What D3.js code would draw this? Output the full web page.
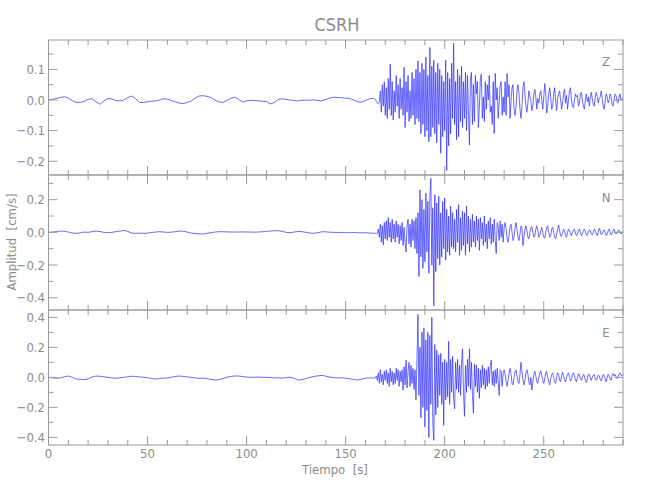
<!DOCTYPE html>
<html><head><meta charset="utf-8">
<script src="https://cdn.jsdelivr.net/npm/d3@7"></script>
<style>
body{margin:0;background:#fff;}
text{font-family:"DejaVu Sans","Liberation Sans",sans-serif;font-stretch:condensed;font-weight:normal;fill:#8c8c8c;}
</style></head>
<body><svg id="chart" width="650" height="500"></svg>
<script>
// ---- data ----
const title = "CSRH";
const channels = ["Z", "N", "E"];
const xTicks = [0, 50, 100, 150, 200, 250];
const quietStart = 0, quietStep = 2;      // s
const activeStart = 165, activeStep = 0.5; // s

const zQuiet = [0.0,0.002,0.005,0.008,0.011,0.006,-0.002,-0.008,-0.008,-0.005,0.002,0.004,-0.006,-0.014,-0.003,0.005,0.003,-0.002,-0.003,0.0,
0.008,0.013,0.004,-0.008,-0.008,-0.006,-0.004,-0.003,0.0,0.004,0.003,-0.002,-0.006,-0.010,-0.012,-0.008,-0.004,0.006,0.013,0.014,
0.012,0.008,0.0,-0.006,-0.008,-0.002,0.006,0.009,0.002,-0.007,-0.003,-0.001,-0.002,-0.003,-0.004,-0.005,-0.013,-0.008,0.002,0.004,
0.002,0.0,-0.002,-0.003,-0.001,0.0,-0.001,0.001,-0.002,-0.003,0.002,0.006,0.009,0.008,0.007,0.006,0.005,0.0,-0.006,-0.007,
-0.002,0.004,0.006];
const zActive = [0.002,-0.005,-0.010,-0.012,-0.006,0.03,-0.04,0.05,-0.02,0.06,
-0.05,0.04,-0.06,0.07,-0.03,0.117,-0.05,0.06,-0.065,0.03,
-0.04,0.08,-0.02,0.05,-0.06,0.07,-0.03,0.04,-0.05,0.107,
-0.09,0.06,-0.04,0.08,-0.07,0.03,-0.06,0.09,-0.05,0.07,
-0.08,0.1,-0.06,0.128,-0.07,0.09,-0.11,0.12,-0.08,0.1,
-0.12,0.14,-0.1,0.08,-0.136,0.172,-0.12,0.11,-0.09,0.13,
-0.11,0.09,-0.14,0.12,-0.08,0.1,-0.174,0.08,-0.12,0.06,
-0.1,0.13,-0.23,0.09,-0.15,0.07,-0.11,0.12,-0.06,0.185,
-0.08,0.06,-0.13,0.1,-0.12,0.08,-0.07,0.11,-0.09,0.06,
-0.06,0.09,-0.1,0.08,-0.05,-0.147,0.07,0.09,-0.08,0.05,
-0.07,0.08,0.02,0.06,-0.09,-0.02,0.07,0.085,-0.06,0.01,
-0.07,0.06,-0.03,0.05,0.0,0.08,-0.04,-0.02,-0.08,0.06,
-0.109,0.087,0.0,0.04,-0.06,-0.01,0.05,0.06,-0.05,0.01,
-0.04,0.06,-0.05,0.087,0.01,0.05,-0.06,0.0,0.04,0.05,
-0.03,-0.05,-0.02,0.03,0.05,0.02,-0.03,-0.06,-0.02,0.04,
0.06,0.02,-0.02,-0.04,-0.01,0.03,0.01,0.0,-0.035,-0.02,
0.02,0.035,0.01,-0.03,0.005,-0.01,0.02,0.03,0.0,-0.03,
0.01,0.054,0.02,-0.043,-0.02,0.02,0.04,0.01,-0.03,-0.02,
0.02,0.04,0.0,-0.035,0.005,0.02,0.03,0.0,-0.03,-0.01,
0.02,0.035,-0.01,0.015,-0.03,0.0,0.03,0.04,0.0,-0.02,
-0.025,0.0,0.02,0.01,0.015,-0.02,-0.01,0.02,0.025,0.0,
-0.02,-0.03,0.0,0.02,-0.005,0.01,-0.02,0.01,0.025,0.005,
-0.015,-0.02,0.01,0.025,0.01,-0.01,0.005,0.01,0.03,0.005,
-0.02,-0.03,0.0,0.02,0.01,-0.01,0.0,0.02,0.01,-0.015,
-0.02,0.0,0.02,0.015,-0.005,-0.01,0.01,0.02,0.0,0.005,0.0];

const nQuiet = [0.0,0.002,0.005,0.008,0.007,0.002,-0.004,-0.006,-0.003,0.002,0.0,0.004,0.008,0.005,0.0,-0.002,0.0,0.004,0.008,0.012,
0.006,-0.004,-0.006,-0.005,-0.006,-0.005,-0.001,0.002,0.004,0.002,0.0,0.001,0.004,0.008,0.007,0.002,-0.004,-0.007,-0.009,-0.01,
-0.006,-0.002,0.002,0.004,0.004,0.003,0.002,0.002,0.002,0.003,0.002,0.002,0.001,0.002,0.004,0.006,0.008,0.01,0.01,0.006,
0.0,-0.002,0.002,0.006,0.004,0.0,-0.004,-0.006,-0.002,0.004,0.003,0.001,0.0,-0.001,0.0,-0.002,-0.002,-0.001,-0.002,-0.003,
-0.002,-0.004,-0.005];
const nActive = [-0.006,-0.008,-0.004,0.02,-0.03,0.05,-0.06,0.04,-0.077,0.06,
-0.04,0.07,-0.05,0.09,-0.03,0.06,-0.06,0.08,-0.04,0.05,
-0.06,0.07,-0.03,0.05,-0.07,0.04,-0.05,0.06,-0.08,0.03,
-0.06,-0.12,0.04,0.08,-0.07,0.05,-0.09,0.08,-0.05,0.07,
-0.1,0.09,-0.13,0.12,-0.27,0.26,-0.15,0.2,-0.22,0.14,
-0.18,0.24,-0.12,0.19,-0.25,0.21,0.33,-0.2,0.15,-0.45,
0.23,-0.24,0.18,-0.16,0.22,-0.2,0.12,-0.15,0.19,-0.1,
0.21,-0.17,0.14,-0.12,0.1,-0.14,0.16,-0.09,0.12,-0.1,
0.08,-0.12,0.14,-0.06,0.17,-0.14,0.09,-0.11,0.13,-0.08,
0.12,-0.14,0.16,-0.07,0.1,-0.12,0.08,-0.09,0.11,-0.06,
0.07,-0.09,0.1,-0.05,0.08,-0.11,0.09,-0.04,0.06,-0.08,
0.1,-0.06,0.05,-0.1,0.07,-0.04,0.09,-0.07,0.05,-0.06,
0.08,-0.05,-0.13,0.06,0.04,-0.05,0.07,-0.03,0.05,-0.06,
0.03,0.06,0.02,-0.04,-0.06,-0.02,0.04,0.05,0.0,-0.05,
-0.03,0.03,0.06,0.02,-0.03,-0.05,-0.01,0.04,0.03,-0.08,
-0.03,0.02,0.04,0.01,-0.03,-0.04,0.0,0.03,0.035,0.0,
-0.03,-0.02,0.02,0.04,0.01,-0.03,-0.02,0.01,0.03,0.0,
-0.03,-0.035,0.0,0.03,0.04,0.0,-0.03,-0.02,0.02,0.03,
0.0,-0.03,-0.04,-0.01,0.02,0.045,0.01,-0.02,-0.025,0.0,
0.02,0.01,-0.02,-0.03,0.0,0.02,0.015,-0.01,-0.02,0.0,
0.015,0.02,-0.005,-0.02,-0.01,0.01,0.02,0.0,-0.02,-0.01,
0.01,0.02,0.005,-0.015,-0.02,0.0,0.015,0.01,-0.01,-0.015,
0.0,0.02,0.01,-0.01,-0.02,0.0,0.025,0.01,-0.015,-0.01,
0.01,0.015,0.0,-0.02,-0.01,0.01,0.02,0.0,-0.015,-0.005,
0.01,0.02,0.0,-0.01,-0.005,0.01,0.015,0.0,-0.01,0.005,0.0];

const eQuiet = [0.0,-0.003,-0.006,-0.004,0.004,0.009,0.0,-0.011,-0.013,-0.015,-0.01,0.002,0.009,0.007,0.004,0.0,-0.004,-0.006,-0.003,0.0,
0.004,0.007,0.006,0.002,0.001,-0.002,-0.008,-0.011,-0.008,-0.005,-0.004,0.0,0.006,0.009,0.006,0.003,0.0,-0.004,-0.007,-0.005,
-0.008,-0.014,-0.018,-0.015,-0.008,0.0,0.006,0.009,0.009,0.005,0.002,0.0,0.001,0.002,0.0,0.0,-0.002,-0.003,-0.004,-0.005,
-0.002,0.001,-0.006,-0.018,-0.015,-0.008,0.0,0.006,0.01,0.013,0.008,0.002,-0.002,-0.004,-0.003,-0.006,-0.01,-0.014,-0.018,-0.012,
-0.006,-0.004,-0.005];
const eActive = [-0.003,0.01,-0.02,0.03,-0.04,0.05,-0.03,0.02,-0.05,0.04,
-0.02,0.05,-0.04,0.03,-0.06,0.06,-0.03,0.04,-0.05,0.03,
-0.04,0.06,-0.02,0.05,-0.06,0.04,-0.03,0.05,-0.085,0.07,
-0.05,0.115,-0.07,0.04,0.1,-0.06,0.08,-0.04,0.06,-0.08,
0.05,-0.15,0.12,0.42,-0.12,0.2,-0.27,0.3,-0.2,0.33,
-0.33,0.25,-0.22,0.3,-0.4,0.28,-0.18,0.4,-0.3,-0.42,
0.22,-0.25,0.18,-0.2,0.15,-0.12,0.16,-0.18,0.1,-0.32,
0.12,-0.15,0.1,-0.13,0.24,-0.18,0.12,-0.1,0.14,-0.14,
-0.21,0.1,-0.08,0.12,-0.1,0.08,-0.12,0.09,0.19,-0.1,
-0.26,0.08,-0.1,0.12,-0.06,0.19,-0.08,0.1,-0.12,-0.24,
0.09,-0.06,0.08,-0.1,0.06,-0.14,0.05,-0.07,0.08,-0.05,
0.06,-0.08,0.05,-0.06,0.07,-0.04,0.08,0.115,-0.05,0.04,
-0.06,0.05,-0.04,0.06,-0.03,-0.12,0.05,0.04,-0.06,0.03,
0.05,0.02,-0.03,-0.06,-0.02,0.03,0.06,0.02,-0.04,-0.05,
0.0,0.04,0.05,0.01,-0.03,-0.04,0.02,0.1,0.04,-0.02,
-0.05,-0.02,0.03,0.05,0.02,-0.03,-0.05,0.0,-0.085,-0.03,
0.02,0.04,0.01,-0.03,-0.04,0.0,0.03,0.045,0.01,-0.02,
-0.04,-0.01,0.03,0.04,0.0,-0.03,-0.05,-0.01,0.02,0.03,
0.0,-0.03,-0.04,0.0,0.03,0.02,-0.02,-0.03,0.01,0.035,
0.01,-0.02,-0.03,0.0,0.02,0.03,0.0,-0.025,-0.015,0.02,
0.03,0.01,-0.02,-0.03,0.0,0.025,0.015,-0.01,-0.02,0.0,
0.02,0.01,-0.02,-0.035,-0.01,0.02,0.02,-0.005,-0.02,0.0,
0.015,0.02,-0.01,-0.02,-0.005,0.015,0.01,-0.015,-0.025,0.0,
0.02,0.01,-0.01,-0.03,0.0,0.02,0.01,-0.01,-0.02,0.01,
0.025,0.01,0.02,0.005,-0.01,0.0,0.02,0.03,0.015,0.01,0.02];

const yDomains = [[-0.245, 0.196], [-0.475, 0.351], [-0.451, 0.449]];
const yMajorTicks = [[-0.2, -0.1, 0.0, 0.1], [-0.4, -0.2, 0.0, 0.2], [-0.4, -0.2, 0.0, 0.2, 0.4]];
const yMinorStep = [0.05, 0.1, 0.1];
const quietSeries = [zQuiet, nQuiet, eQuiet];
const activeSeries = [zActive, nActive, eActive];

// ---- drawing ----
const svg = d3.select("#chart");
const axisColor = "#9a9a9a";
const left = 48.5, right = 623;
const panelTops = [40, 175, 310], panelH = 135;
const x = d3.scaleLinear().domain([0, 290]).range([left, right]);
const fmt = d3.format(".1f");

svg.append("text").attr("x", 337).attr("y", 31).attr("text-anchor", "middle")
  .style("font-size", "18px").text(title);

channels.forEach((ch, k) => {
  const top = panelTops[k], bot = top + panelH;
  const y = d3.scaleLinear().domain(yDomains[k]).range([bot, top]);
  const g = svg.append("g");

  const pts = [];
  quietSeries[k].forEach((v, i) => pts.push([quietStart + i * quietStep, v]));
  activeSeries[k].forEach((v, i) => pts.push([activeStart + i * activeStep, v]));
  const line = d3.line().x(d => x(d[0])).y(d => y(d[1]));
  g.append("path").datum(pts).attr("d", line)
    .attr("fill", "none").attr("stroke", "#2a2aff").attr("stroke-width", 0.7)
    .attr("stroke-linejoin", "round");

  g.append("rect").attr("x", left).attr("y", top).attr("width", right - left).attr("height", panelH)
    .attr("fill", "none").attr("stroke", axisColor).attr("stroke-width", 1);

  const xMinor = d3.range(0, 291, 10);
  xMinor.forEach(t => {
    const len = (t % 50 === 0) ? 9 : 5;
    const xp = x(t);
    g.append("line").attr("x1", xp).attr("x2", xp).attr("y1", top).attr("y2", top + len)
      .attr("stroke", axisColor);
    g.append("line").attr("x1", xp).attr("x2", xp).attr("y1", bot).attr("y2", bot - len)
      .attr("stroke", axisColor);
  });

  const [d0, d1] = yDomains[k];
  const step = yMinorStep[k];
  const minor = d3.range(Math.ceil(d0 / step - 1e-9), Math.floor(d1 / step + 1e-9) + 1).map(i => i * step);
  minor.forEach(v => {
    const isMajor = yMajorTicks[k].some(m => Math.abs(m - v) < 1e-9);
    const len = isMajor ? 9 : 5;
    const yp = y(v);
    g.append("line").attr("x1", left).attr("x2", left + len).attr("y1", yp).attr("y2", yp).attr("stroke", axisColor);
    g.append("line").attr("x1", right).attr("x2", right - len).attr("y1", yp).attr("y2", yp).attr("stroke", axisColor);
  });
  yMajorTicks[k].forEach(v => {
    g.append("text").attr("x", 45).attr("y", y(v)).attr("dy", "0.35em")
      .attr("text-anchor", "end").style("font-size", "13px").text(fmt(v));
  });

  g.append("text").attr("x", 606).attr("y", top + 21 + (k === 0 ? 0 : 1)).attr("dy", "0.35em")
    .attr("text-anchor", "middle").style("font-size", "13px").text(ch);
});

xTicks.forEach(t => {
  svg.append("text").attr("x", x(t)).attr("y", 458).attr("text-anchor", "middle")
    .style("font-size", "13px").text(t);
});
svg.append("text").attr("x", 335).attr("y", 474).attr("text-anchor", "middle")
  .style("font-size", "13px").attr("xml:space", "preserve").text("Tiempo  [s]");
svg.append("text").attr("transform", "translate(16,242) rotate(-90)").attr("text-anchor", "middle")
  .style("font-size", "13px").attr("xml:space", "preserve").text("Amplitud  [cm/s]");
</script></body></html>
